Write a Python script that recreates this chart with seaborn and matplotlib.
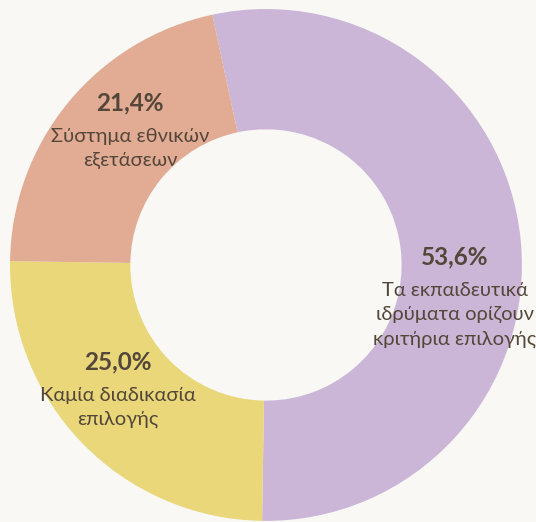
import matplotlib
matplotlib.use('Agg')
import matplotlib.pyplot as plt
import seaborn as sns

# Data
categories = ['Τα εκπαιδευτικά\nιδρύματα ορίζουν\nκριτήρια επιλογής',
              'Καμία διαδικασία\nεπιλογής',
              'Σύστημα εθνικών\nεξετάσεων']
shares = [53.6, 25.0, 21.4]
colors = ['#CBB6D7', '#E9D77A', '#E1AB94']

sns.set_theme(style='white')
plt.rcParams['font.family'] = ['Lato', 'DejaVu Sans']

bg = '#F9F8F5'
text_color = '#54473A'

fig = plt.figure(figsize=(5.36, 5.22), dpi=100, facecolor=bg)
ax = fig.add_axes([0.0187, 0.0019, 0.955, 0.981])
ax.set_facecolor(bg)

wedges, _ = ax.pie(shares, colors=colors, startangle=102.1, counterclock=False,
                   radius=1.0, wedgeprops=dict(width=0.47, linewidth=0))

# label block positions (pixel centres of the percentage line, converted to data units)
label_px = [(455, 257), (118, 362), (130, 103)]
cx, cy, r = 266, 265, 256
for (px, py), share, cat in zip(label_px, shares, categories):
    x = (px - cx) / r
    y = (cy - py) / r
    ax.text(x, y, f'{share:.1f}%'.replace('.', ','), ha='center', va='center',
            fontsize=17.5, fontweight='bold', color=text_color)
    ax.text(x, y - 0.098, cat, ha='center', va='top', fontsize=14.5,
            color=text_color, linespacing=1.5)

ax.set_xlim(-1, 1)
ax.set_ylim(-1, 1)
ax.set_aspect('equal')
ax.axis('off')

plt.savefig('out.png', dpi=100, facecolor=bg)
